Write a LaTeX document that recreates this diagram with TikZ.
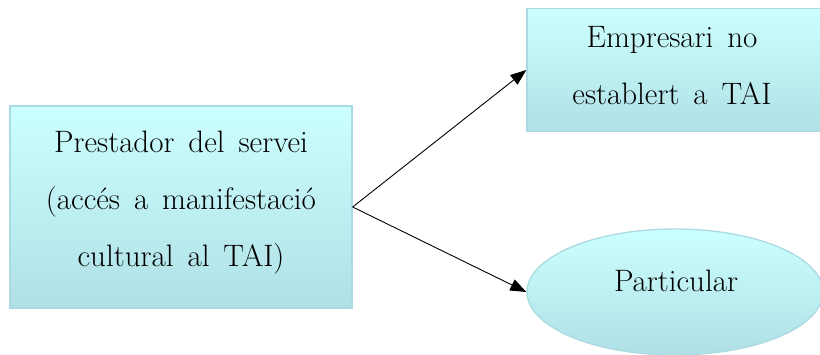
\documentclass[tikz,border=0pt]{standalone}
\usetikzlibrary{arrows.meta,shapes.geometric}
\definecolor{topc}{RGB}{204,255,255}
\definecolor{botc}{RGB}{176,224,230}
\definecolor{edgec}{RGB}{172,218,226}
\newcommand\lblfont{\fontsize{31}{57}\selectfont\spaceskip 0.45em plus 0.1em\relax}
\begin{document}
\begin{tikzpicture}[x=1pt,y=-1pt,
  boxstyle/.style={draw=edgec,line width=1.3pt,top color=topc,bottom color=botc,inner sep=0pt},
  lbl/.style={font=\lblfont,align=center},
  conn/.style={line width=0.9pt,-{Triangle[length=16pt,width=12pt]}}]
\useasboundingbox (0,0) rectangle (820,355);
\node[boxstyle,rectangle,minimum width=342pt,minimum height=202pt] (src) at (181,207) {};
\node[lbl] at (181,203) {Prestador del servei\\(accés a manifestació\\cultural al TAI)};
\node[boxstyle,rectangle,minimum width=300pt,minimum height=123pt] (emp) at (677,70) {};
\node[lbl] at (672,66) {Empresari no\\establert a TAI};
\node[boxstyle,ellipse,minimum width=296pt,minimum height=126pt] (par) at (675,292) {};
\node[lbl] at (676,281) {Particular};
\coordinate (o) at (src.east);
\draw[conn] (o) -- (emp.west);
\draw[conn] (o) -- (par.west);
\end{tikzpicture}
\end{document}
